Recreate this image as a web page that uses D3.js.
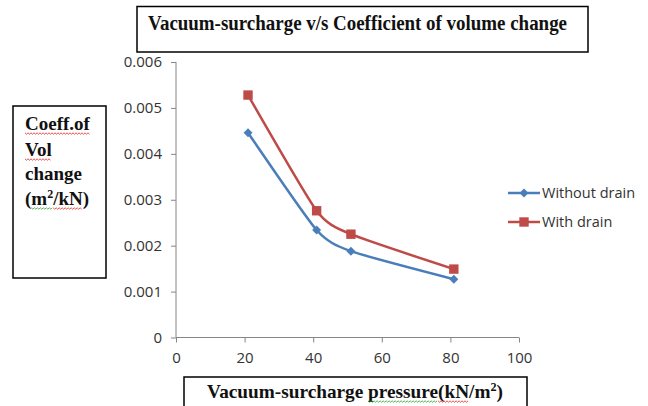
<!DOCTYPE html>
<html lang="en">
<head><meta charset="utf-8"/>
<style>
body { margin: 0; background: #fff; }
.axis path, .axis line { stroke: #868686; }
.axis text { font-family: "Open Sans", sans-serif; font-size: 15px; fill: #333; }
.legend text { font-family: "Open Sans", sans-serif; font-size: 14.5px; fill: #333; }
.lbl { font-family: "Liberation Serif", "Times New Roman", serif; font-weight: bold; fill: #111; }
.box { fill: #fff; stroke: #000; stroke-width: 1.5px; }
.line { fill: none; stroke-width: 2.5px; }
</style>
</head>
<body>
<svg id="chart" width="648" height="406"></svg>

<script src="https://cdn.jsdelivr.net/npm/d3@7"></script>
<script>

var pressure = [21, 41, 51, 81];
var withoutDrain = [0.00446, 0.00234, 0.00188, 0.00127];
var withDrain = [0.00528, 0.00276, 0.00225, 0.00149];
var seriesNames = ["Without drain", "With drain"];
var xTicks = [0, 20, 40, 60, 80, 100];
var yTicks = [0, 0.001, 0.002, 0.003, 0.004, 0.005, 0.006];

var colors = ["#4a7ebb", "#be4b48"];
var series = [withoutDrain, withDrain].map((v, i) => ({
	name: seriesNames[i],
	color: colors[i],
	shape: i == 0 ? "diamond" : "square",
	values: pressure.map((p, j) => ({x: p, y: v[j]}))
}));

var svg = d3.select("#chart");

var x = d3.scaleLinear().domain([0, 100]).range([176, 519]),
    y = d3.scaleLinear().domain([0, 0.006]).range([337.5, 62]);

// axes
svg.append("g")
	.attr("class", "axis")
	.attr("transform", "translate(0," + y(0) + ")")
	.call(d3.axisBottom(x).tickValues(xTicks).tickSize(5).tickPadding(9.5).tickSizeOuter(0))
	.call(g => g.select(".domain").attr("d", "M" + x(0) + ",0H" + x(100)));

svg.append("g")
	.attr("class", "axis")
	.attr("transform", "translate(" + x(0) + ",0)")
	.call(d3.axisLeft(y).tickValues(yTicks).tickFormat(d => d == 0 ? "0" : d3.format(".3f")(d))
		.tickSize(5).tickPadding(9).tickSizeOuter(0))
	.call(g => g.select(".domain").attr("d", "M0," + y(0.006) + "V" + y(0)));

// lines + markers (excel "smoothed line")
var line = d3.line()
	.curve(d3.curveCardinal.tension(0.4))
	.x(d => x(d.x))
	.y(d => y(d.y));

function marker(sel, shape, color){
	if(shape == "diamond"){
		sel.append("path").attr("d", d3.symbol(d3.symbolSquare, 40)())
			.attr("transform", "rotate(45)")
			.attr("fill", color);
	} else {
		sel.append("path").attr("d", d3.symbol(d3.symbolSquare, 88)())
			.attr("fill", color);
	}
}

series.forEach(function(s){
	svg.append("path").attr("class", "line")
		.attr("stroke", s.color)
		.attr("d", line(s.values));
	s.values.forEach(function(d){
		var g = svg.append("g").attr("transform", "translate(" + x(d.x) + "," + y(d.y) + ")");
		marker(g, s.shape, s.color);
	});
});

// legend
var legend = svg.append("g").attr("class", "legend");
series.forEach(function(s, i){
	var ly = 193 + i * 29;
	var g = legend.append("g").attr("transform", "translate(508," + ly + ")");
	g.append("line").attr("x1", 0).attr("x2", 32).attr("y1", 0).attr("y2", 0)
		.attr("stroke", s.color).attr("stroke-width", 2.5);
	var m = g.append("g").attr("transform", "translate(16,0)");
	marker(m, s.shape, s.color);
	g.append("text").attr("x", 34).attr("y", 5).text(s.name);
});

// wavy spell-check underline
function squiggle(x0, x1, yy, color){
	var pts = [];
	for(var xx = x0, k = 0; xx <= x1; xx += 1.5, k++){
		pts.push([xx, yy + (k % 2 ? 1.2 : -0.2)]);
	}
	svg.append("path").attr("d", d3.line()(pts))
		.attr("fill", "none").attr("stroke", color).attr("stroke-width", 0.8);
}
function underline(t, a, b, color){
	var n = t.node();
	var x0 = n.getStartPositionOfChar(a).x,
	    x1 = n.getEndPositionOfChar(b).x,
	    yy = n.getStartPositionOfChar(a).y + 3;
	squiggle(x0, x1, yy, color);
}

// title box
svg.append("rect").attr("class", "box").attr("x", 137).attr("y", 6.5).attr("width", 451).attr("height", 45.5);
svg.append("text").attr("class", "lbl")
	.attr("x", 148).attr("y", 29.5)
	.attr("font-size", 20)
	.attr("textLength", 419).attr("lengthAdjust", "spacingAndGlyphs")
	.text("Vacuum-surcharge v/s Coefficient of volume change");

// y label box
svg.append("rect").attr("class", "box").attr("x", 13).attr("y", 106).attr("width", 93).attr("height", 172);
var yl1 = svg.append("text").attr("class", "lbl").attr("font-size", 19).attr("x", 25).attr("y", 130).text("Coeff.of");
var yl2 = svg.append("text").attr("class", "lbl").attr("font-size", 19).attr("x", 25).attr("y", 156).text("Vol");
svg.append("text").attr("class", "lbl").attr("font-size", 19).attr("x", 25).attr("y", 180).text("change");
var yl4 = svg.append("text").attr("class", "lbl").attr("font-size", 19).attr("x", 25).attr("y", 205);
yl4.append("tspan").text("(m");
yl4.append("tspan").attr("font-size", 12).attr("dy", -7).text("2");
yl4.append("tspan").attr("dy", 7).text("/kN)");
underline(yl1, 0, 7, "#e02020");
underline(yl2, 0, 2, "#e02020");
underline(yl4, 1, 2, "#2a9a2a");
underline(yl4, 3, 5, "#e02020");

// x label box
svg.append("rect").attr("class", "box").attr("x", 184).attr("y", 377).attr("width", 343).attr("height", 40);
var xl = svg.append("text").attr("class", "lbl").attr("font-size", 19)
	.attr("x", 207).attr("y", 398)
	.attr("textLength", 296).attr("lengthAdjust", "spacingAndGlyphs");
xl.append("tspan").text("Vacuum-surcharge pressure(kN/m");
xl.append("tspan").attr("font-size", 12).attr("dy", -7).text("2");
xl.append("tspan").attr("dy", 7).text(")");
underline(xl, 17, 24, "#2a9a2a");
underline(xl, 25, 27, "#e02020");

</script>
</body>
</html>
